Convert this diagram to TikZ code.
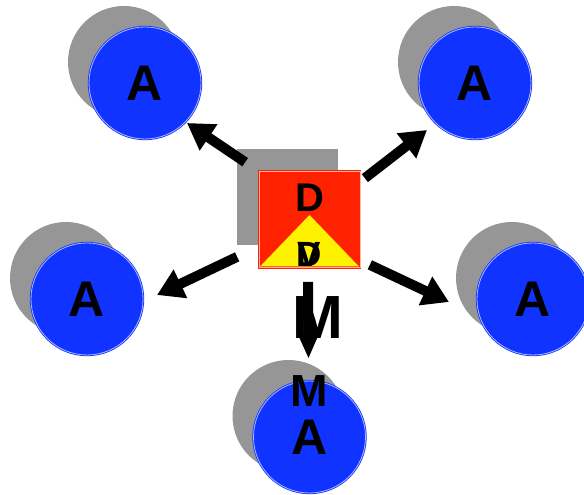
\documentclass[tikz,border=0pt]{standalone}
\usepackage{fontspec}
\setmainfont{Liberation Sans}
\usetikzlibrary{positioning,shadows,arrows.meta}
\definecolor{orbblue}{RGB}{17,51,255}
\definecolor{hubred}{RGB}{255,34,0}
\definecolor{shade}{RGB}{150,150,150}

\begin{document}
\begin{tikzpicture}[x=1pt,y=1pt,on grid,
		txt/.style={font=\bfseries\fontsize{#1}{#1}\selectfont,inner sep=0pt},
		orb/.style={circle,minimum size=112pt,inner sep=0pt,fill=orbblue,draw=orbblue,line width=.8pt,
			double=orbblue!35!white,double distance=.8pt,txt=50,
			drop shadow={shadow xshift=-21pt,shadow yshift=21pt,fill=shade,opacity=1}},
		hubbox/.style={rectangle,minimum width=101pt,minimum height=96pt,inner sep=0pt,fill=hubred,draw=hubred,
			line width=.7pt,double=hubred!35!white,double distance=.7pt,
			drop shadow={shadow xshift=-22pt,shadow yshift=22pt,fill=shade,opacity=1}},
		arr/.style={-{Triangle[width=30pt,length=26pt]},line width=10pt}]
			\useasboundingbox (0,0) rectangle (584,495);
			\node[hubbox] (hub) at (309.5,275.5) {};
			\fill[yellow] ([shift={(1.5,1.5)}]hub.south west) -- ([shift={(-1.5,1.5)}]hub.south east)
			-- ([yshift=4.5pt]hub.center) -- cycle;
			\node[txt=40] (dtop) [above=21.5pt of hub] {D};
			\node[txt=35] (dlow) [below=35pt of hub] {D};
			\node[txt=35] (vlow) [below=35pt of hub] {V};
			\node[orb] (tl) [above left=136.5pt and 164.5pt of hub] {A};
			\node[orb] (tr) [above right=136.5pt and 165.5pt of hub] {A};
			\node[orb] (lf) [below left=79.5pt and 222.5pt of hub] {A};
			\node[orb] (rt) [below right=79.5pt and 223.5pt of hub] {A};
			\node[orb] (bt) [below=217.5pt of hub] {A};
			\node[txt=45] (mtop) [above=46pt of bt] {M};
			\draw[arr] ([shift={(-13.5,9)}]hub.north west) -- ([shift={(42,-40)}]tl.center);
			\draw[arr] ([shift={(4.5,-7)}]hub.north east) -- ([shift={(-48,-47)}]tr.center);
			\draw[arr] ([shift={(-21.5,11)}]hub.south west) -- ([shift={(70,4)}]lf.center);
			\draw[arr] ([shift={(9.5,3)}]hub.south east) -- ([shift={(-84,-3)}]rt.center);
			\draw[arr,-{Triangle[width=20pt,length=26pt]}] ([shift={(-1.5,-14)}]hub.south)
			-- node[txt=61,xshift=10pt,yshift=2.5pt] (mbig) {M} ([shift={(-1,78)}]bt.center);
		\end{tikzpicture}
\end{document}
